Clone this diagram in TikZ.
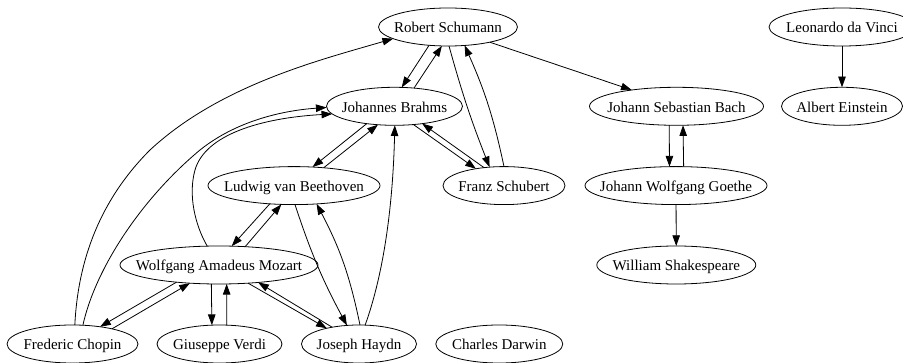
\documentclass[tikz,border=0pt]{standalone}
\usepackage{fontspec}
\setmainfont{Liberation Serif}
\usetikzlibrary{shapes.geometric,arrows.meta}
\tikzset{
  pn/.style={draw, ellipse, inner sep=0pt, outer sep=0pt, minimum height=38pt,
    text height=12pt, text depth=0pt, line width=0.8pt,
    font=\fontsize{15pt}{18pt}\selectfont},
  ed/.style={-{Triangle[length=10.7pt,width=7.5pt]}, line width=0.8pt},
}
\newcommand{\nmtxt}[1]{\makebox[0pt]{#1}}
\begin{document}
\begin{tikzpicture}[x=1pt,y=-1pt]
\useasboundingbox (0,0) rectangle (903,363);
% row 1
\node[pn, minimum width=139pt] (S) at (448,27) {\nmtxt{Robert Schumann}};
\node[pn, minimum width=146pt] (L) at (842,27) {\nmtxt{Leonardo da Vinci}};
% row 2
\node[pn, minimum width=136pt] (Br) at (394.5,106.3) {\nmtxt{Johannes Brahms}};
\node[pn, minimum width=174pt] (Ba) at (676.5,106.3) {\nmtxt{Johann Sebastian Bach}};
\node[pn, minimum width=121pt] (E) at (842,106.3) {\nmtxt{Albert Einstein}};
% row 3
\node[pn, minimum width=172pt] (Be) at (294,185.6) {\nmtxt{Ludwig van Beethoven}};
\node[pn, minimum width=122pt] (Sc) at (504,185.6) {\nmtxt{Franz Schubert}};
\node[pn, minimum width=182pt] (G) at (676,185.6) {\nmtxt{Johann Wolfgang Goethe}};
% row 4
\node[pn, minimum width=198pt] (M) at (219,265) {\nmtxt{Wolfgang Amadeus Mozart}};
\node[pn, minimum width=159pt] (W) at (676.3,265) {\nmtxt{William Shakespeare}};
% row 5
\node[pn, minimum width=131pt] (C) at (72.5,344) {\nmtxt{Frederic Chopin}};
\node[pn, minimum width=125pt] (V) at (219.5,344) {\nmtxt{Giuseppe Verdi}};
\node[pn, minimum width=115pt] (H) at (359,344) {\nmtxt{Joseph Haydn}};
\node[pn, minimum width=127pt] (D) at (499.3,344) {\nmtxt{Charles Darwin}};
% edges
\draw[ed] (S.340.4) -- (Ba.160.7);
\draw[ed] (S.224) -- (Br.69.8);
\draw[ed] (Br.43.7) -- (S.252.8);
\draw[ed] (S.273) to[bend right=3] (Sc.128.4);
\draw[ed] (Sc.90) to[bend right=6] (S.312.7);
\draw[ed] (C.83) .. controls (78,260) and (100,200) .. (150,150)
  .. controls (220,85) and (320,60) .. (S.192.3);
\draw[ed] (C.61) .. controls (95,270) and (140,200) .. (200,150)
  .. controls (240,118) and (290,110) .. (Br.181.7);
\draw[ed] (M.122.5) .. controls (195,225) and (188,195) .. (195,170)
  .. controls (205,135) and (260,118) .. (Br.187.3);
\draw[ed] (Br.212.4) -- (Be.45.9);
\draw[ed] (Be.31.4) -- (Br.228.4);
\draw[ed] (Br.316.1) -- (Sc.149.2);
\draw[ed] (Sc.138) -- (Br.328.5);
\draw[ed] (H.72.4) .. controls (385,270) and (393,200) .. (Br.271.5);
\draw[ed] (Be.217.2) -- (M.56);
\draw[ed] (M.35.2) -- (Be.236.8);
\draw[ed] (Be.273.3) to[bend right=5] (H.123.5);
\draw[ed] (H.87) to[bend right=8] (Be.321.1);
\draw[ed] (M.202.1) -- (C.32.1);
\draw[ed] (C.21.2) -- (M.212.1);
\draw[ed] (M.248.9) -- (V.112.4);
\draw[ed] (V.69.2) -- (M.292.1);
\draw[ed] (M.328.2) -- (H.154.1);
\draw[ed] (H.148.5) -- (M.336.1);
\draw[ed] (L) -- (E);
\draw[ed] (Ba.249.2) -- (G.109.5);
\draw[ed] (G.68.9) -- (Ba.289.8);
\draw[ed] (G) -- (W);
\end{tikzpicture}
\end{document}
